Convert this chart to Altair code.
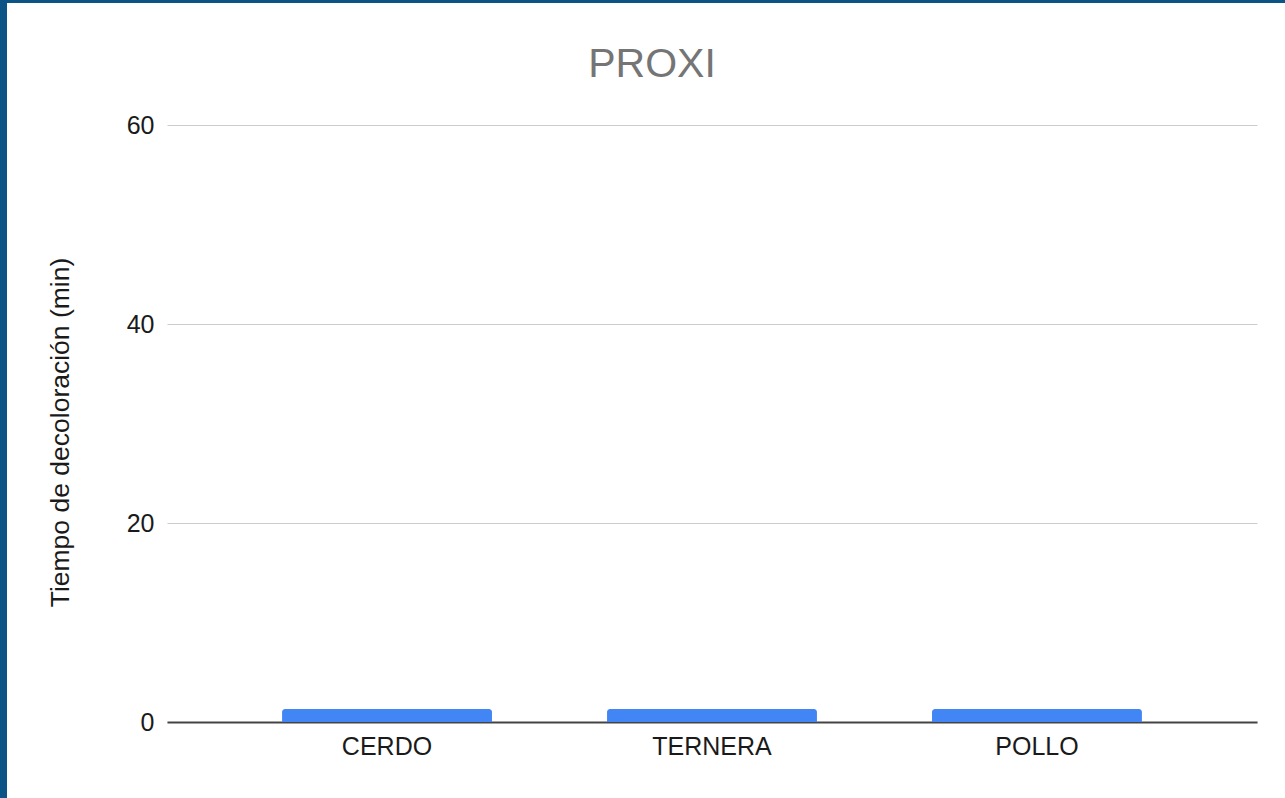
import altair as alt
import pandas as pd

categories = ["CERDO", "TERNERA", "POLLO"]
values = [1.3, 1.3, 1.3]
y_ticks = [0, 20, 40, 60]
title_text = ["PROXI"]

df = pd.DataFrame({"cat": categories, "val": values})

FONT = "Liberation Sans"
BLUE_FRAME = "#0c5485"

bars = alt.Chart(df).mark_bar(
    color="#4285F4", cornerRadiusTopLeft=3, cornerRadiusTopRight=3
).encode(
    x=alt.X("cat:N", sort=categories,
            scale=alt.Scale(paddingInner=0.354, paddingOuter=0.354),
            axis=alt.Axis(title=None, labelAngle=0, labelFontSize=25, labelColor="#1a1a1a",
                          labelFont=FONT, labelPadding=12, ticks=False, domainColor="#444444",
                          domainWidth=2, grid=False)),
    y=alt.Y("val:Q", scale=alt.Scale(domain=[0, 60], nice=False),
            axis=alt.Axis(title="Tiempo de decoloración (min)", values=y_ticks,
                          labelFontSize=25, labelColor="#1a1a1a", labelFont=FONT,
                          labelPadding=13, ticks=False, domain=False,
                          gridColor="#cccccc", gridWidth=1.2,
                          titleFont=FONT, titleFontSize=26.5, titleFontWeight="normal",
                          titleColor="#1a1a1a", titlePadding=52, titleY=307)),
)

frame_df = pd.DataFrame({"a": [0]})
left_border = alt.Chart(frame_df).mark_rect(color=BLUE_FRAME, clip=False).encode(
    x=alt.value(-167), x2=alt.value(-160), y=alt.value(-125), y2=alt.value(673)
)
top_border = alt.Chart(frame_df).mark_rect(color=BLUE_FRAME, clip=False).encode(
    x=alt.value(-167), x2=alt.value(1118), y=alt.value(-125), y2=alt.value(-122)
)

title = alt.Chart(pd.DataFrame({"t": title_text})).mark_text(
    font=FONT, fontSize=41, color="#757575", align="center", baseline="alphabetic", clip=False
).encode(
    text="t:N", x=alt.value(485), y=alt.value(-48)
)

chart = alt.layer(bars, left_border, top_border, title).properties(
    width=1090, height=597,
    autosize=alt.AutoSizeParams(type="none"),
    padding={"left": 167, "top": 125, "right": 28, "bottom": 76},
    background="white",
).configure_view(stroke=None)

chart.save("out.html", embed_options={"renderer": "svg", "actions": False})
